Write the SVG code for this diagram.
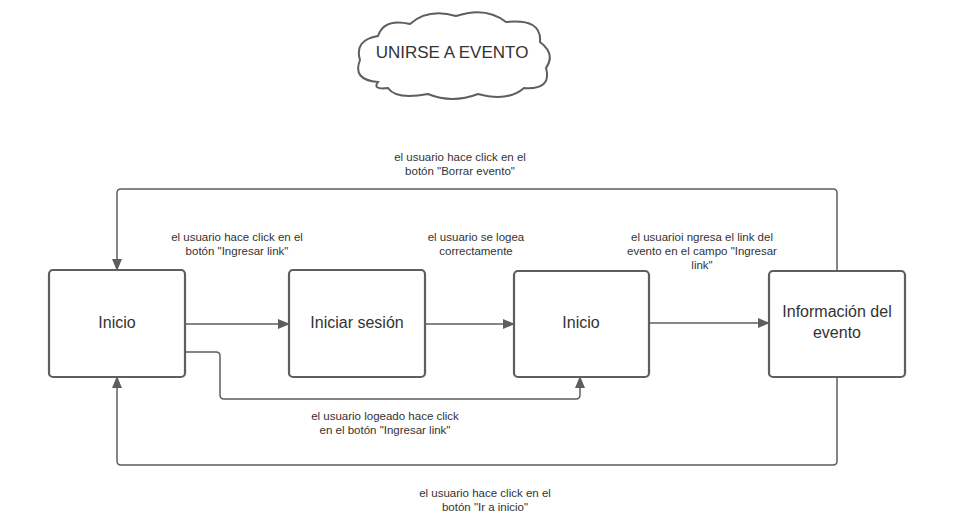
<svg xmlns="http://www.w3.org/2000/svg" width="954" height="528" viewBox="0 0 954 528">
<style>
.box{fill:#fff;stroke:#5e5e5e;stroke-width:2.2}
.ln{fill:none;stroke:#5e5e5e;stroke-width:1.5}
.nt{font-family:"Liberation Sans",Arial,sans-serif;font-size:16px;fill:#333;text-anchor:middle}
.lb{font-family:"Liberation Sans",Arial,sans-serif;font-size:11.5px;fill:#333;text-anchor:middle}
</style>
<defs>
<marker id="ar" viewBox="0 0 12 10" refX="11" refY="5" markerWidth="12" markerHeight="10" markerUnits="userSpaceOnUse" orient="auto">
<path d="M0,0 L12,5 L0,10 Z" fill="#5e5e5e"/>
</marker>
</defs>
<rect width="954" height="528" fill="#fff"/>
<g id="title">
<path class="ln" d="M378,82 Q352,80 360,60 Q354,40 378,36 Q384,18 410,24 Q428,8 456,16 Q486,6 506,22 Q542,18 540,42 Q556,54 546,68 Q552,90 524,88 Q508,102 478,94 Q452,104 428,94 Q396,100 388,88 Q372,90 378,82 Z" style="stroke-width:2"/>
<text class="nt" x="452" y="58" style="font-size:17px">UNIRSE A EVENTO</text>
</g>
<g id="connectors">
<path class="ln" d="M185,324 H289" marker-end="url(#ar)"/>
<path class="ln" d="M425,324 H514" marker-end="url(#ar)"/>
<path class="ln" d="M649,323 H769" marker-end="url(#ar)"/>
<path class="ln" d="M185,352 H216 Q220,352 220,356 V395 Q220,399 224,399 H576 Q580,399 580,395 V377" marker-end="url(#ar)"/>
<path class="ln" d="M837,271 V193 Q837,189 833,189 H121 Q117,189 117,193 V270" marker-end="url(#ar)"/>
<path class="ln" d="M837,377 V461 Q837,465 833,465 H121 Q117,465 117,461 V377" marker-end="url(#ar)"/>
<text class="lb" x="460" y="161">el usuario hace click en el</text>
<text class="lb" x="460" y="175">botón "Borrar evento"</text>
<text class="lb" x="237" y="241">el usuario hace click en el</text>
<text class="lb" x="237" y="255">botón "Ingresar link"</text>
<text class="lb" x="476" y="241">el usuario se logea</text>
<text class="lb" x="476" y="255">correctamente</text>
<text class="lb" x="702" y="241">el usuarioi ngresa el link del</text>
<text class="lb" x="702" y="255">evento en el campo "Ingresar</text>
<text class="lb" x="702" y="269">link"</text>
<text class="lb" x="385" y="420">el usuario logeado hace click</text>
<text class="lb" x="385" y="434">en el botón "Ingresar link"</text>
<text class="lb" x="485" y="497">el usuario hace click en el</text>
<text class="lb" x="485" y="511">botón "Ir a inicio"</text>
</g>
<g id="inicio1">
<rect class="box" x="49" y="270" width="136" height="107" rx="4"/>
<text class="nt" x="117" y="328">Inicio</text>
</g>
<g id="iniciar-sesion">
<rect class="box" x="289" y="270" width="136" height="107" rx="4"/>
<text class="nt" x="357" y="328">Iniciar sesión</text>
</g>
<g id="inicio2">
<rect class="box" x="514" y="271" width="135" height="106" rx="4"/>
<text class="nt" x="581" y="328">Inicio</text>
</g>
<g id="info-evento">
<rect class="box" x="769" y="271" width="136" height="106" rx="4"/>
<text class="nt" x="837" y="317">Información del</text>
<text class="nt" x="837" y="338">evento</text>
</g>
</svg>
